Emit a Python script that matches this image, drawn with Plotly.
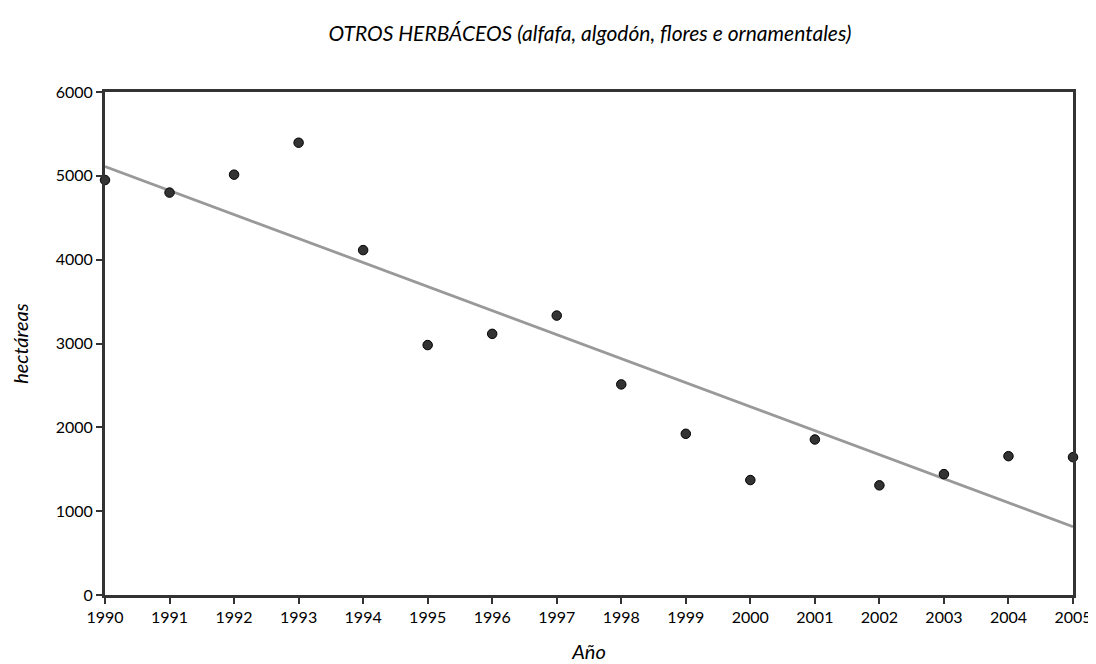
import numpy as np
import plotly.graph_objects as go

years = [1990, 1991, 1992, 1993, 1994, 1995, 1996, 1997,
         1998, 1999, 2000, 2001, 2002, 2003, 2004, 2005]
hectareas = [4950, 4800, 5014, 5395, 4114, 2981, 3115, 3333,
             2512, 1923, 1371, 1855, 1308, 1442, 1656, 1644]
y_ticks = [0, 1000, 2000, 3000, 4000, 5000, 6000]

title_text = "OTROS HERBÁCEOS (alfafa, algodón, flores e ornamentales)"
x_title = "Año"
y_title = "hectáreas"

# linear trend line (least squares) from the data
coef = np.polyfit(years, hectareas, 1)
trend_x = [years[0], years[-1]]
trend_y = [float(np.polyval(coef, v)) for v in trend_x]

FONT = "Lato, 'Open Sans', sans-serif"

fig = go.Figure()
fig.add_trace(go.Scatter(
    x=trend_x, y=trend_y, mode="lines",
    line=dict(color="#999999", width=2.8),
    hoverinfo="skip", showlegend=False, cliponaxis=False,
))
fig.add_trace(go.Scatter(
    x=years, y=hectareas, mode="markers",
    marker=dict(size=9.5, color="#333333", line=dict(color="#000000", width=1)),
    showlegend=False, cliponaxis=False,
))

fig.update_layout(
    width=1096, height=664,
    paper_bgcolor="white", plot_bgcolor="white",
    margin=dict(l=94, r=20, t=84, b=76),
    font=dict(family=FONT, size=16, color="#000000"),
    title=dict(text=title_text, x=0.531, xanchor="center", y=0.962, yanchor="middle",
               font=dict(family=FONT, size=21, style="italic", color="#000000")),
)
fig.update_xaxes(
    range=[1990, 2005], tickmode="array", tickvals=years,
    ticktext=[str(v) for v in years],
    showgrid=False, zeroline=False,
    showline=True, linecolor="#333333", linewidth=3, mirror=True,
    ticks="outside", ticklen=6, tickwidth=2, tickcolor="#333333",
    tickfont=dict(family=FONT, size=16),
    title=dict(text=x_title, font=dict(family=FONT, size=20, style="italic"), standoff=20),
)
fig.update_yaxes(
    range=[0, 6000], tickmode="array", tickvals=y_ticks,
    showgrid=False, zeroline=False,
    showline=True, linecolor="#333333", linewidth=3, mirror=True,
    ticks="outside", ticklen=6, tickwidth=2, tickcolor="#333333",
    tickfont=dict(family=FONT, size=16),
    title=dict(text=y_title, font=dict(family=FONT, size=20, style="italic"), standoff=22),
)

fig.write_html("out.html")
